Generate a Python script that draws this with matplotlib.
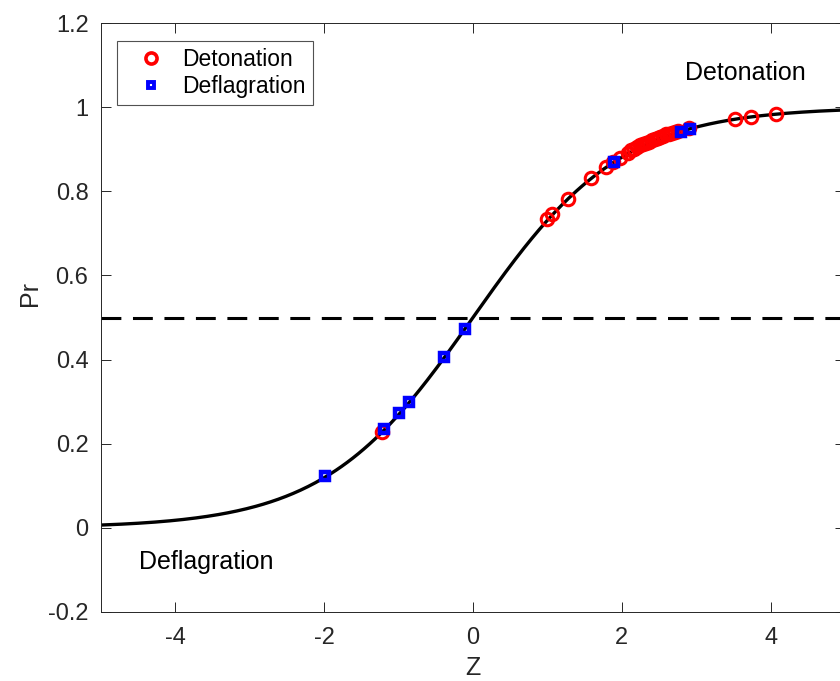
import numpy as np
import matplotlib
matplotlib.use("Agg")
import matplotlib.pyplot as plt

plt.rcParams['font.family'] = ['Liberation Sans', 'DejaVu Sans']
plt.rcParams['axes.unicode_minus'] = False

# Detonation observations (Z, Pr)
det_z = [-1.22, 1.00, 1.06, 1.28, 1.59, 1.79, 1.88, 1.97, 2.08, 2.12, 2.16, 2.20, 2.24,
         2.28, 2.32, 2.36, 2.40, 2.44, 2.48, 2.52, 2.56, 2.60, 2.64, 2.68, 2.72,
         2.76, 2.90, 3.52, 3.74, 4.07]
det_pr = [0.228, 0.733, 0.745, 0.782, 0.831, 0.858, 0.870, 0.880, 0.890, 0.897, 0.901,
          0.905, 0.909, 0.912, 0.915, 0.918, 0.921, 0.924, 0.927, 0.930, 0.932, 0.935,
          0.937, 0.939, 0.941, 0.943, 0.950, 0.972, 0.977, 0.984]

# Deflagration observations (Z, Pr)
def_z = [-1.99, -1.19, -0.99, -0.86, -0.39, -0.11, 1.89, 2.79, 2.91]
def_pr = [0.123, 0.236, 0.274, 0.299, 0.406, 0.473, 0.869, 0.942, 0.948]

# Logistic model Pr = 1 / (1 + exp(-(b0 + b1*Z)))
b0, b1 = 0.0, 1.0
z_range = (-5, 5)
threshold = 0.5

W, H = 840, 681
fig = plt.figure(figsize=(W/100, H/100), dpi=100)
ax = fig.add_axes([101/W, (H-612)/H, 744/W, (612-23)/H])

zc = np.linspace(z_range[0], z_range[1], 400)
ax.plot(zc, 1/(1+np.exp(-(b0+b1*zc))), color='black', lw=2.4, zorder=2)
ax.plot(z_range, [threshold, threshold], color='black', lw=2.2, ls=(0, (6.5, 3.8)), zorder=2)

ax.plot(det_z, det_pr, ls='none', marker='o', ms=9, mfc='none', mec='red', mew=2.2,
        label='Detonation', zorder=3)
ax.plot(def_z, def_pr, ls='none', marker='s', ms=6.2, mfc='none', mec='blue', mew=3.2,
        label='Deflagration', zorder=4)

ax.set_xlim(-5, 5)
ax.set_ylim(-0.2, 1.2)
ax.set_xticks([-4, -2, 0, 2, 4])
ax.set_yticks([-0.2, 0, 0.2, 0.4, 0.6, 0.8, 1.0, 1.2])
ax.set_yticklabels(['-0.2', '0', '0.2', '0.4', '0.6', '0.8', '1', '1.2'])
ax.tick_params(direction='in', top=True, right=True, labelsize=17, colors='#262626',
               length=7, width=0.7)
ax.tick_params(axis='y', pad=9)
ax.tick_params(axis='x', pad=11)
for s in ax.spines.values():
    s.set_color('#262626')
    s.set_linewidth(0.7)
ax.set_xlabel('Z', fontsize=18, color='#262626')
ax.set_ylabel('Pr', fontsize=18, color='#262626')
ax.xaxis.set_label_coords(473/W, (H-668)/H, transform=fig.transFigure)
ax.yaxis.set_label_coords(30/W, (H-294)/H, transform=fig.transFigure)
ax.xaxis.label.set_va('center')
ax.yaxis.label.set_va('center')

ax.text(3.66, 1.081, 'Detonation', fontsize=18, color='black', va='center', ha='center')
ax.text(-3.59, -0.081, 'Deflagration', fontsize=18, color='black', va='center', ha='center')

leg = ax.legend(loc='upper left', bbox_to_anchor=(117/W, (H-41)/H),
                bbox_transform=fig.transFigure, borderaxespad=0, fontsize=16.5,
                frameon=True, fancybox=False, edgecolor='#262626', borderpad=0.3,
                labelspacing=0.2, handletextpad=0.2, handlelength=2.36)
leg.get_frame().set_linewidth(0.8)
leg.legend_handles[0].set_markersize(8)
leg.legend_handles[0].set_markeredgewidth(2.6)
leg.legend_handles[1].set_markersize(5)
leg.legend_handles[1].set_markeredgewidth(2.8)

fig.savefig('out.png', dpi=100)
